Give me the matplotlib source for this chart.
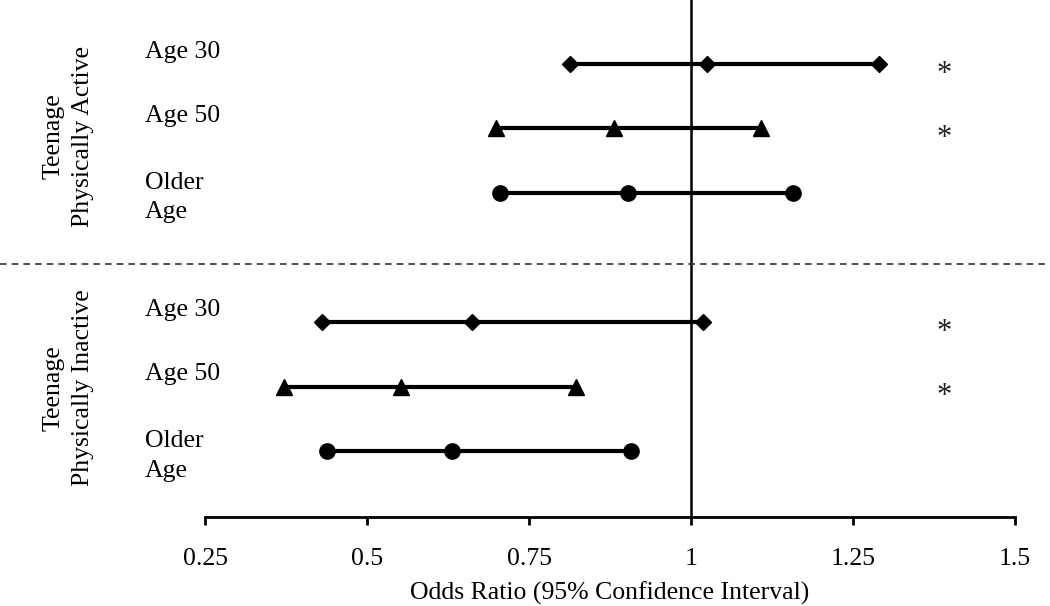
import matplotlib.pyplot as plt
from matplotlib.lines import Line2D

plt.rcParams['font.family'] = ['Liberation Serif', 'DejaVu Serif']

# odds ratios with 95% CI, top to bottom
groups = ['Teenage\nPhysically Active', 'Teenage\nPhysically Inactive']
rows = ['Age 30', 'Age 50', 'Older\nAge', 'Age 30', 'Age 50', 'Older\nAge']
row_pos = [0, 1, 2, 4, 5, 6]
lower = [0.813, 0.699, 0.705, 0.430, 0.372, 0.438]
odds = [1.025, 0.881, 0.903, 0.662, 0.552, 0.631]
upper = [1.290, 1.108, 1.157, 1.018, 0.822, 0.907]
markers = ['D', '^', 'o', 'D', '^', 'o']
msizes = [8.5, 12, 11, 8.5, 12, 11]
signif = [True, True, False, True, True, False]
xticks = [0.25, 0.5, 0.75, 1, 1.25, 1.5]

fig = plt.figure(figsize=(10.5, 6.06), dpi=100)
ax = fig.add_axes([205 / 1050, 1 - 517 / 606, 810 / 1050, 517 / 606])

for y, lo, od, hi, m, ms in zip(row_pos, lower, odds, upper, markers, msizes):
    ax.plot([lo, od, hi], [y, y, y], color='black', lw=3, marker=m,
            markersize=ms, zorder=3)

ax.axvline(1, color='black', lw=1.8, zorder=2)

ax.set_xlim(0.25, 1.5)
ax.set_ylim(7.02, -0.99)
ax.set_xticks(xticks)
ax.set_xticklabels(['0.25', '0.5', '0.75', '1', '1.25', '1.5'])
ax.set_yticks([])
for s in ['top', 'right', 'left']:
    ax.spines[s].set_visible(False)
ax.spines['bottom'].set_linewidth(2)
ax.tick_params(axis='x', length=6, width=2, labelsize=18.5, pad=16)
ax.set_xlabel('Odds Ratio (95% Confidence Interval)', fontsize=18.5,
              labelpad=9)

# dashed separator across the whole figure
fig.add_artist(Line2D([0, 1], [1 - 264 / 606] * 2, color='#333333', lw=1.2,
                      linestyle=(0, (4, 3)), transform=fig.transFigure))

# row labels and significance stars
for y, lab, sg in zip(row_pos, rows, signif):
    if '\n' in lab:
        ax.text(-0.074, y + 0.07, lab, transform=ax.get_yaxis_transform(),
                fontsize=18.5, ha='left', va='center', linespacing=1.45)
    else:
        ax.text(-0.074, y - 0.19, lab, transform=ax.get_yaxis_transform(),
                fontsize=18.5, ha='left', va='center')
    if sg:
        ax.text(1.39, y + 0.16, '*', fontsize=22, ha='center', va='center',
                color='#222222')

# group labels
ax.text(-0.169, 1.12, groups[0], transform=ax.get_yaxis_transform(),
        fontsize=18.5, rotation=90, ha='center', va='center', linespacing=1.45)
ax.text(-0.169, 5.02, groups[1], transform=ax.get_yaxis_transform(),
        fontsize=18.5, rotation=90, ha='center', va='center', linespacing=1.45)

fig.savefig('out.png', dpi=100)
